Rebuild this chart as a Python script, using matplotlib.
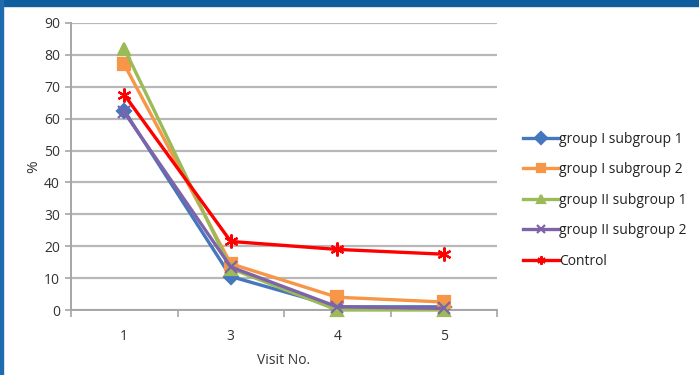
import matplotlib
matplotlib.use("Agg")
import matplotlib.pyplot as plt
from matplotlib.patches import Rectangle

visits = ["1", "3", "4", "5"]
g1_sub1 = [62.5, 10.5, 1.0, 1.0]
g1_sub2 = [77.0, 14.5, 4.0, 2.5]
g2_sub1 = [82.0, 13.0, 0.0, 0.0]
g2_sub2 = [62.0, 13.5, 1.0, 0.5]
control = [67.5, 21.5, 19.0, 17.5]

series = [
    ("group I subgroup 1", g1_sub1, "#4677BE", "D", 7),
    ("group I subgroup 2", g1_sub2, "#F79646", "s", 8),
    ("group II subgroup 1", g2_sub1, "#9BBB59", "^", 9),
    ("group II subgroup 2", g2_sub2, "#7F63A8", "x", 8),
    ("Control", control, "#FF0000", (6, 2, 0), 10),
]

plt.rcParams["font.family"] = ["Open Sans", "DejaVu Sans"]

fig = plt.figure(figsize=(6.99, 3.75), dpi=100)
fig.patch.set_facecolor("white")
ax = fig.add_axes([71 / 699, 1 - 310 / 375, 426 / 699, 287 / 375])

x = list(range(len(visits)))
for name, vals, color, marker, ms in series:
    ax.plot(x, vals, color=color, lw=2.4, marker=marker, markersize=ms,
            markeredgewidth=1.6, markeredgecolor=color, markerfacecolor=color,
            label=name, clip_on=False, zorder=3)

ax.set_xlim(-0.5, len(visits) - 0.5)
ax.set_ylim(0, 90)
ax.set_yticks(range(0, 91, 10))
ax.set_xticks(x)
ax.set_xticklabels(visits)
ax.set_xticks([i - 0.5 for i in range(len(visits) + 1)], minor=True)
ax.tick_params(axis="x", which="major", length=0, pad=14, labelsize=10, colors="#333333")
ax.tick_params(axis="x", which="minor", length=5, width=1.2, color="#a6a6a6", direction="out")
ax.tick_params(axis="y", length=4, width=1.2, color="#a6a6a6", pad=4, labelsize=10,
               labelcolor="#333333")

ax.grid(axis="y", color="#b8b8b8", lw=1.6, zorder=0)
for side in ("top", "right"):
    ax.spines[side].set_visible(False)
for side in ("left", "bottom"):
    ax.spines[side].set_color("#a6a6a6")
    ax.spines[side].set_linewidth(1.4)

ax.set_xlabel("Visit No.", fontsize=10, color="#333333", labelpad=6)
ax.set_ylabel("%", fontsize=11, color="#333333", labelpad=2)

leg = fig.legend(loc="upper left", bbox_to_anchor=(517 / 699, 1 - 126 / 375),
                 frameon=False, fontsize=10, handlelength=2.6, handletextpad=0.05,
                 labelspacing=1.12, borderaxespad=0)
for h in leg.legend_handles:
    h.set_markersize(6)
for t in leg.get_texts():
    t.set_color("#222222")

# frame: blue band along the top and thin blue rule at the left edge
fig.patches.append(Rectangle((0, 1 - 6 / 375), 1, 6 / 375, transform=fig.transFigure,
                             color="#0E5E9E", zorder=10))
fig.patches.append(Rectangle((0, 0), 3 / 699, 1, transform=fig.transFigure,
                             color="#1E6BB0", zorder=10))

fig.savefig("out.png", dpi=100, facecolor="white")
